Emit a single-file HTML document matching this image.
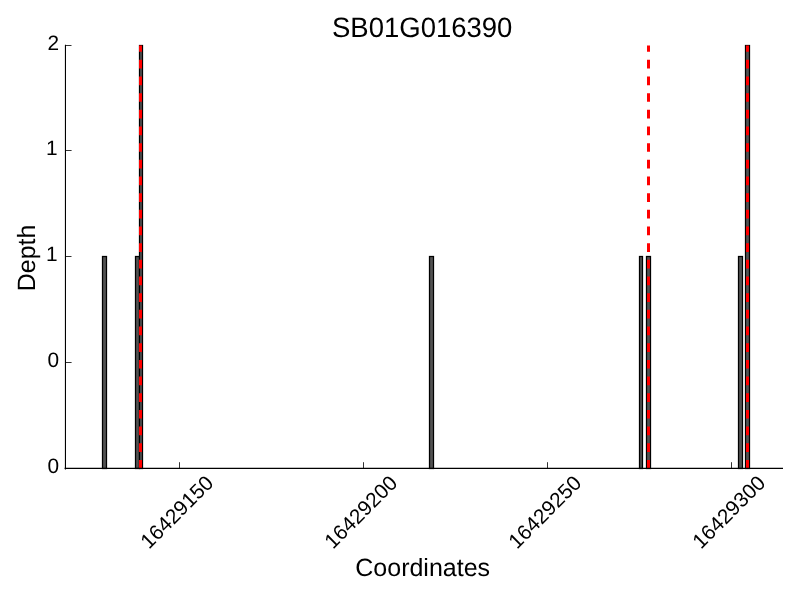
<!DOCTYPE html>
<html>
<head>
<meta charset="utf-8">
<style>
html,body{margin:0;padding:0;background:#fff;width:800px;height:600px;overflow:hidden;}
svg{display:block;will-change:transform;}
text{text-rendering:geometricPrecision;font-family:"Liberation Sans",Arial,Helvetica,sans-serif;fill:#000;}
</style>
</head>
<body>
<svg width="800" height="600" viewBox="0 0 800 600">
<rect x="0" y="0" width="800" height="600" fill="#fff"/>
<!-- bars -->
<g fill="#525252" stroke="#000" stroke-width="1.25">
<rect x="102.5" y="256.5" width="4" height="212"/>
<rect x="135.5" y="256.5" width="4" height="212"/>
<rect x="139.5" y="45.5" width="3" height="423"/>
<rect x="429.5" y="256.5" width="4" height="212"/>
<rect x="639.5" y="256.5" width="3" height="212"/>
<rect x="646.5" y="256.5" width="4" height="212"/>
<rect x="738.5" y="256.5" width="4" height="212"/>
<rect x="745.5" y="45.5" width="4" height="423"/>
</g>
<!-- red dashed vlines -->
<g stroke="#ff0000" stroke-width="3" stroke-dasharray="8.7 7.97" fill="none">
<line x1="140.5" y1="468.6" x2="140.5" y2="45.5"/>
<line x1="648.5" y1="468.6" x2="648.5" y2="45.5"/>
<line x1="747.5" y1="468.6" x2="747.5" y2="45.5"/>
</g>
<!-- spines -->
<g stroke="#000" stroke-width="1.1" fill="none">
<line x1="65.45" y1="44.8" x2="65.45" y2="469.4"/>
<line x1="64.6" y1="468.4" x2="783" y2="468.4" stroke-width="1.25"/>
</g>
<!-- ticks -->
<g stroke="#000" stroke-width="0.8" fill="none">
<line x1="179.5" y1="468" x2="179.5" y2="462.2"/>
<line x1="363.5" y1="468" x2="363.5" y2="462.2"/>
<line x1="547.5" y1="468" x2="547.5" y2="462.2"/>
<line x1="731.5" y1="468" x2="731.5" y2="462.2"/>
<line x1="65.5" y1="45.5" x2="71.5" y2="45.5"/>
<line x1="65.5" y1="150.5" x2="71.6" y2="150.5"/>
<line x1="65.5" y1="256.5" x2="71.5" y2="256.5"/>
<line x1="65.5" y1="362.5" x2="71.6" y2="362.5"/>
</g>
<!-- y tick labels -->
<g font-size="20.83" text-anchor="end">
<text x="59.2" y="50.2">2</text>
<text x="57.6" y="155.4">1</text>
<text x="57.6" y="260.5">1</text>
<text x="59.1" y="366.6">0</text>
<text x="59.1" y="472.6">0</text>
</g>
<!-- x tick labels -->
<g font-size="20.83" text-anchor="middle">
<text transform="translate(176.7,511.8) rotate(-45)" dy="0.35em">16429150</text>
<text transform="translate(360.7,511.8) rotate(-45)" dy="0.35em">16429200</text>
<text transform="translate(544.7,511.8) rotate(-45)" dy="0.35em">16429250</text>
<text transform="translate(728.7,511.8) rotate(-45)" dy="0.35em">16429300</text>
</g>
<!-- axis labels -->
<text x="422.7" y="576.2" font-size="25" text-anchor="middle">Coordinates</text>
<text transform="translate(35,257.9) rotate(-90)" font-size="25" text-anchor="middle">Depth</text>
<!-- title -->
<text transform="translate(422.2,36.9) scale(0.99,1.01)" font-size="27.78" text-anchor="middle">SB01G016390</text>
</svg>
</body>
</html>
